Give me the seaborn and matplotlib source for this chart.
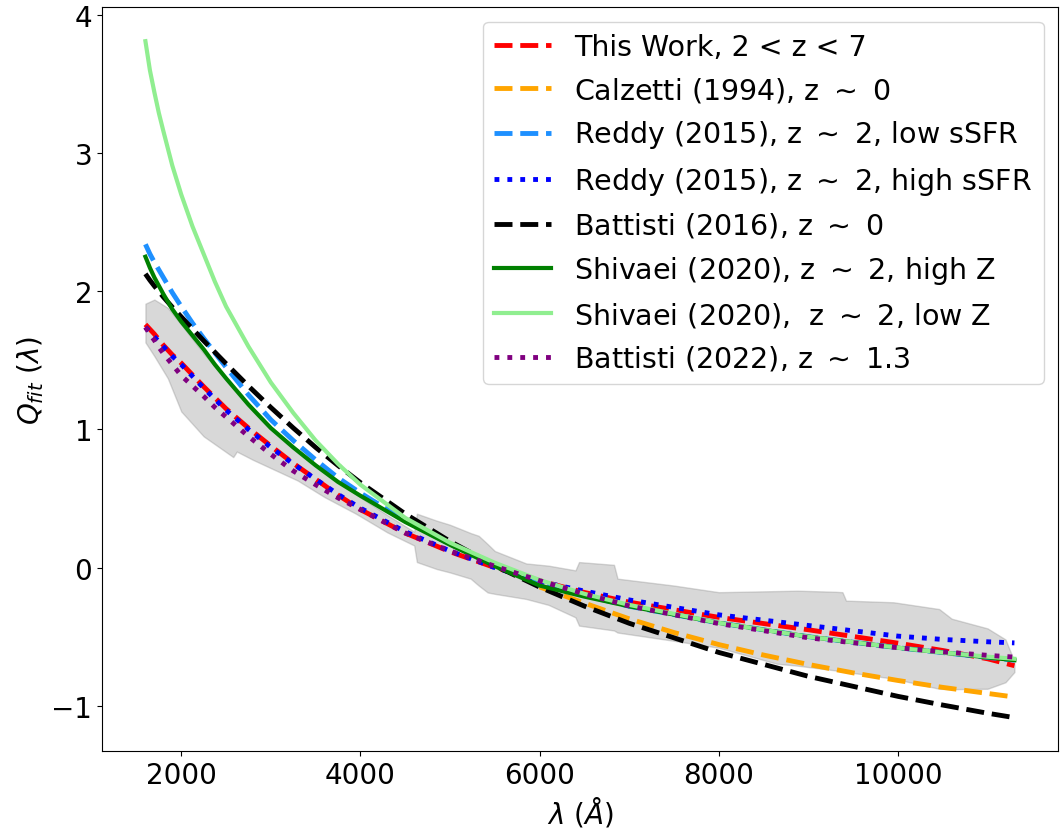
import matplotlib
matplotlib.use("Agg")
import matplotlib.pyplot as plt
import seaborn as sns

# wavelength grid (Angstrom)
wave = [1600, 1650, 1700, 1750, 1800, 1900, 2000, 2125, 2250, 2375, 2500, 2750, 3000,
        3250, 3500, 3750, 4000, 4500, 5000, 5500, 6000, 6500, 7000, 8000, 9000, 10000,
        10500, 11000, 11300]

this_work = [1.76, 1.725, 1.69, 1.65, 1.61, 1.54, 1.48, 1.395, 1.31, 1.23, 1.15, 1.01, 0.88,
             0.755, 0.64, 0.525, 0.42, 0.25, 0.115, 0.0, -0.095, -0.18, -0.25, -0.36, -0.45,
             -0.547, -0.60, -0.66, -0.71]
reddy_low = [2.34, 2.27, 2.21, 2.155, 2.10, 1.99, 1.89, 1.77, 1.66, 1.555, 1.45, 1.25, 1.07,
             0.92, 0.78, 0.65, 0.54, 0.34, 0.17, 0.02, -0.11, -0.20, -0.28, -0.40, -0.50,
             -0.58, -0.615, -0.65, -0.67]
reddy_high = [1.74, 1.705, 1.67, 1.635, 1.60, 1.53, 1.47, 1.385, 1.30, 1.22, 1.14, 1.00, 0.87,
              0.75, 0.64, 0.53, 0.43, 0.26, 0.12, 0.0, -0.10, -0.17, -0.234, -0.342, -0.419,
              -0.496, -0.52, -0.537, -0.545]
battisti16 = [2.126, 2.080, 2.038, 1.999, 1.959, 1.885, 1.815, 1.728, 1.642, 1.559, 1.476,
              1.314, 1.159, 1.011, 0.870, 0.739, 0.615, 0.389, 0.190, 0.014, -0.141, -0.279,
              -0.403, -0.614, -0.787, -0.932, -0.995, -1.054, -1.086]
shivaei_hiZ = [2.25, 2.17, 2.10, 2.04, 1.98, 1.87, 1.78, 1.68, 1.58, 1.47, 1.37, 1.18, 1.01,
               0.87, 0.74, 0.62, 0.52, 0.33, 0.165, 0.01, -0.13, -0.21, -0.28, -0.40, -0.50,
               -0.58, -0.615, -0.65, -0.67]
shivaei_loZ = [3.81, 3.60, 3.44, 3.29, 3.16, 2.91, 2.70, 2.47, 2.27, 2.07, 1.89, 1.60, 1.34,
               1.12, 0.92, 0.75, 0.60, 0.36, 0.18, 0.035, -0.09, -0.19, -0.27, -0.40, -0.50,
               -0.58, -0.615, -0.645, -0.66]
battisti22 = [1.74, 1.69, 1.645, 1.595, 1.55, 1.47, 1.39, 1.315, 1.24, 1.16, 1.09, 0.95, 0.82,
              0.70, 0.60, 0.505, 0.42, 0.25, 0.12, 0.01, -0.095, -0.19, -0.277, -0.405, -0.508,
              -0.58, -0.61, -0.635, -0.648]

calz_wave = [6000, 6500, 7000, 7500, 8000, 8500, 9000, 9500, 10000, 10500, 11300]
calzetti = [-0.14, -0.257, -0.371, -0.470, -0.557, -0.633, -0.701, -0.762, -0.817, -0.867, -0.937]

# uncertainty band
band_wave = [1600, 1700, 1850, 2000, 2250, 2580, 2620, 2800, 3000, 3300, 3600, 3950, 4300,
             4600, 4630, 4850, 5000, 5230, 5320, 5420, 5500, 5850, 6100, 6400, 6440, 6830,
             6870, 7500, 8000, 8650, 8880, 9300, 9380, 9420, 9950, 10460, 10600, 11000,
             11200, 11300]
band_upper = [1.91, 1.94, 1.88, 1.76, 1.55, 1.30, 1.28, 1.13, 1.00, 0.85, 0.70, 0.53, 0.38,
              0.26, 0.39, 0.34, 0.31, 0.25, 0.23, 0.17, 0.12, 0.03, 0.014, -0.02, 0.04, 0.02,
              -0.08, -0.13, -0.178, -0.17, -0.167, -0.175, -0.178, -0.239, -0.251, -0.30,
              -0.37, -0.44, -0.52, -0.68]
band_lower = [1.63, 1.53, 1.37, 1.13, 0.95, 0.80, 0.84, 0.78, 0.72, 0.63, 0.51, 0.39, 0.255,
              0.16, 0.04, -0.01, -0.035, -0.08, -0.13, -0.18, -0.19, -0.227, -0.27, -0.36,
              -0.42, -0.455, -0.47, -0.53, -0.58, -0.696, -0.71, -0.744, -0.75, -0.755,
              -0.804, -0.877, -0.88, -0.877, -0.83, -0.756]

labels = ["This Work, 2 < z < 7",
          r"Calzetti (1994), z $\sim$ 0",
          r"Reddy (2015), z $\sim$ 2, low sSFR",
          r"Reddy (2015), z $\sim$ 2, high sSFR",
          r"Battisti (2016), z $\sim$ 0",
          r"Shivaei (2020), z $\sim$ 2, high Z",
          r"Shivaei (2020),  z $\sim$ 2, low Z",
          r"Battisti (2022), z $\sim$ 1.3"]

plt.rcParams['font.family'] = ['DejaVu Sans']
fig = plt.figure(figsize=(10.6, 8.37), dpi=100)
ax = fig.add_axes([0.0962, 0.101, 0.9018, 0.889])

ax.fill_between(band_wave, band_lower, band_upper, color='gray', alpha=0.3, lw=1)

sns.lineplot(x=wave, y=this_work, ax=ax, color='red', linestyle='--', lw=3.5, label=labels[0])
sns.lineplot(x=calz_wave, y=calzetti, ax=ax, color='orange', linestyle='--', lw=3.5, label=labels[1])
sns.lineplot(x=wave, y=reddy_low, ax=ax, color='dodgerblue', linestyle='--', lw=3.5, label=labels[2])
sns.lineplot(x=wave, y=reddy_high, ax=ax, color='blue', linestyle=':', lw=3.5, label=labels[3])
sns.lineplot(x=wave, y=battisti16, ax=ax, color='black', linestyle='--', lw=3.5, label=labels[4])
sns.lineplot(x=wave, y=shivaei_hiZ, ax=ax, color='green', linestyle='-', lw=3, label=labels[5])
sns.lineplot(x=wave, y=shivaei_loZ, ax=ax, color='lightgreen', linestyle='-', lw=3, label=labels[6])
sns.lineplot(x=wave, y=battisti22, ax=ax, color='purple', linestyle=':', lw=3.5, label=labels[7])

ax.set_xlabel(r'$\lambda\ (\AA)$', fontsize=20)
ax.set_ylabel(r'$Q_{fit}\ (\lambda)$', fontsize=20)
ax.tick_params(labelsize=20)
ax.legend(loc='upper right', fontsize=20.5)

fig.savefig('out.png', dpi=100)
